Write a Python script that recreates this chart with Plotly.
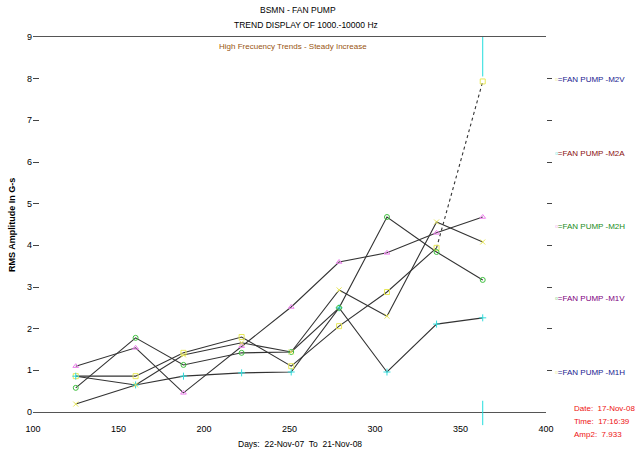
import plotly.graph_objects as go

# ---- data ----
days = [125, 160, 188, 222, 251, 279, 307, 336, 363]
m2v = [0.86, 0.86, 1.42, 1.80, 1.10, 2.06, 2.88, 3.94, 7.933]
m2a = [0.86, 0.65, 0.86, 0.94, 0.96, 2.50, 0.96, 2.11, 2.26]
m2h = [1.10, 1.54, 0.46, 1.58, 2.52, 3.60, 3.82, 4.30, 4.68]
m1v = [0.58, 1.78, 1.13, 1.42, 1.44, 2.50, 4.68, 3.84, 3.17]
m1h = [0.19, 0.65, 1.37, 1.66, 1.44, 2.93, 2.30, 4.56, 4.08]
x_ticks = [100, 150, 200, 250, 300, 350, 400]
y_ticks = [0, 1, 2, 3, 4, 5, 6, 7, 8, 9]
legend_names = ["=FAN PUMP -M2V", "=FAN PUMP -M2A", "=FAN PUMP -M2H",
                "=FAN PUMP -M1V", "=FAN PUMP -M1H"]
cursor_day = 363
cursor_amp = 7.933

FONT = "Liberation Sans, Arial, sans-serif"
FS = 8
LINE = "#333333"

W, H = 636, 453
L, R, T, B = 33, 90, 37, 41
PW, PH = W - L - R, H - T - B


def px(x):  # screen pixel -> paper
    return (x - L) / PW


def py(y):
    return (H - B - y) / PH


fig = go.Figure()

series = [
    (m2v, "#e8e85a", "square-open"),
    (m2a, "#33dddd", "cross-thin-open"),
    (m2h, "#ee80ee", "triangle-up-open"),
    (m1v, "#40c040", "circle-open"),
    (m1h, "#e8e85a", "x-thin-open"),
]

for i, (vals, col, sym) in enumerate(series):
    if i == 0:
        fig.add_trace(go.Scatter(x=days[:-1], y=vals[:-1], mode="lines",
                                 line=dict(color=LINE, width=1.1),
                                 showlegend=False, hoverinfo="skip"))
        fig.add_trace(go.Scatter(x=days[-2:], y=vals[-2:], mode="lines",
                                 line=dict(color=LINE, width=1.1, dash="dot"),
                                 showlegend=False, hoverinfo="skip"))
    else:
        fig.add_trace(go.Scatter(x=days, y=vals, mode="lines",
                                 line=dict(color=LINE, width=1.1),
                                 showlegend=False, hoverinfo="skip"))

for vals, col, sym in series:
    fig.add_trace(go.Scatter(x=days, y=vals, mode="markers",
                             marker=dict(color=col, symbol=sym, size=5,
                                         line=dict(color=col, width=1)),
                             showlegend=False, hoverinfo="skip"))

fig.add_trace(go.Scatter(x=[cursor_day], y=[cursor_amp], mode="markers",
                         marker=dict(color="rgba(0,0,0,0)", symbol="square-open", size=6,
                                     line=dict(color="#22dddd", width=1.2)),
                         showlegend=False, hoverinfo="skip"))

fig.add_trace(go.Scatter(x=[None], y=[None], yaxis="y2", showlegend=False))

shapes = [
    dict(type="line", xref="x", yref="y", x0=cursor_day, x1=cursor_day,
         y0=9, y1=cursor_amp + 0.12, line=dict(color="#22dddd", width=1)),
    dict(type="line", xref="x", yref="paper", x0=cursor_day, x1=cursor_day,
         y0=0.03, y1=-0.035, line=dict(color="#22dddd", width=1)),
]


def ann(text, x, y, color="#000", xanchor="center", angle=0, size=FS, bold=False):
    f = dict(family=FONT, size=size, color=color)
    if bold:
        f["weight"] = "bold"
    return dict(text=text, x=px(x), y=py(y), xref="paper", yref="paper",
                xanchor=xanchor, yanchor="middle", textangle=angle,
                showarrow=False, font=f)


annotations = [
    ann("BSMN - FAN PUMP", 298, 10, size=8.5),
    ann("TREND DISPLAY OF 1000.-10000 Hz", 306, 25, size=8.5),
    ann("High Frecuency Trends - Steady Increase", 293, 47, color="#995511", size=8),
    ann("RMS Amplitude In G-s", 12, 225, angle=-90, size=9, bold=True),
    ann("Days:  22-Nov-07  To  21-Nov-08", 300, 444, size=8.5),
]

leg_y = [79, 153, 226, 298, 372]
leg_col = ["#1a1a90", "#8b1010", "#1a8c1a", "#800080", "#1a1a90"]
leg_mark = ["#e8e85a", "#33dddd", "#ee80ee", "#40c040", "#e8e85a"]
for name, yy, tc, mc in zip(legend_names, leg_y, leg_col, leg_mark):
    annotations.append(ann(f'<span style="color:{mc}">▫</span>{name}', 553, yy,
                           color=tc, xanchor="left", size=8))

for txt, yy in [("Date:  17-Nov-08", 408), ("Time:  17:16:39", 421), ("Amp2:  7.933", 435)]:
    annotations.append(ann(txt, 572, yy, color="#ee1111", xanchor="left", size=8))

fig.update_layout(
    width=W, height=H,
    margin=dict(l=L, r=R, t=T, b=B, pad=0),
    paper_bgcolor="white", plot_bgcolor="white",
    font=dict(family=FONT, size=FS, color="#000"),
    xaxis=dict(range=[100, 400], tickvals=x_ticks, ticks="", showgrid=False,
               zeroline=False, showline=True, mirror=True, linecolor="#555555",
               linewidth=1, tickfont=dict(family=FONT, size=9),
               ticklabelstandoff=8),
    yaxis=dict(range=[0, 9], tickvals=y_ticks, ticks="inside", ticklen=6,
               tickcolor="#444", showgrid=False, zeroline=False, showline=False,
               tickfont=dict(family=FONT, size=9)),
    yaxis2=dict(range=[0, 9], overlaying="y", side="right", tickvals=y_ticks[1:-1],
                ticks="outside", ticklen=5, tickcolor="#444", showticklabels=False,
                showgrid=False, zeroline=False, showline=False),
    shapes=shapes,
    annotations=annotations,
)

fig.write_html("out.html",
               config={"displayModeBar": False},
               post_script="document.body.style.margin='0';"
                           "document.body.style.overflow='hidden';")
